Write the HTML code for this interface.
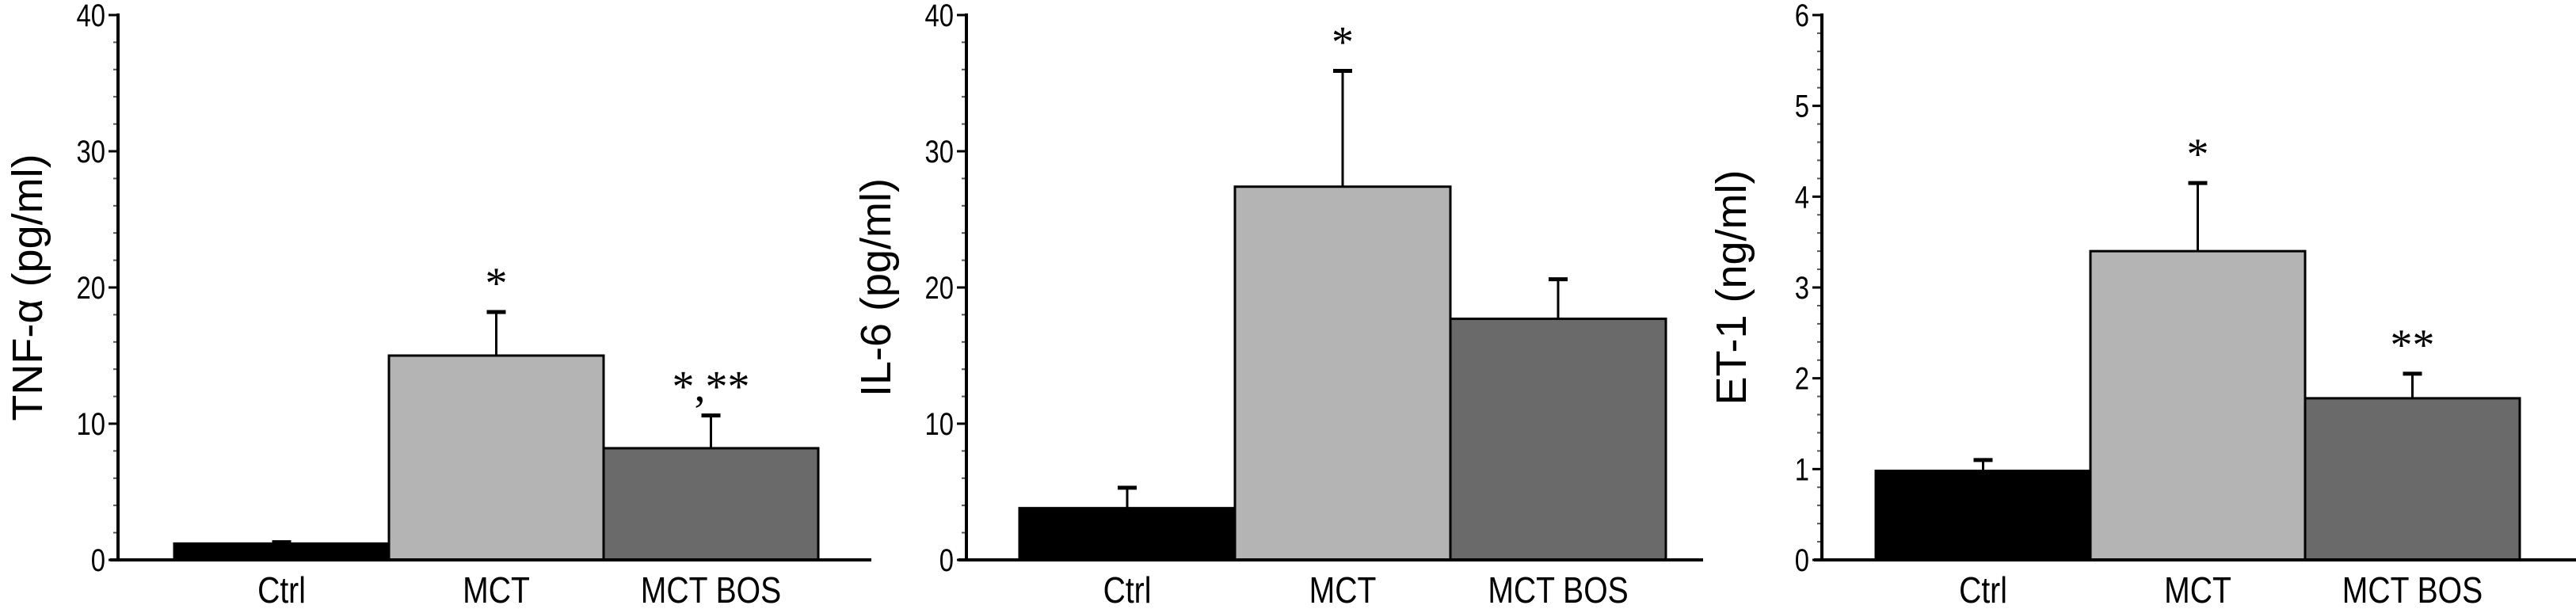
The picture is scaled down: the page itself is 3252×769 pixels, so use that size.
<!DOCTYPE html>
<html><head><meta charset="utf-8"><style>
html,body{margin:0;padding:0;background:#fff;}
svg{display:block;}
text{font-family:"Liberation Sans",sans-serif;fill:#000;}
</style></head><body>
<svg id="chart" width="3252" height="769" viewBox="0 0 3252 769" xmlns="http://www.w3.org/2000/svg"></svg>
<script>
const categories = ["Ctrl", "MCT", "MCT BOS"];
const tnfValues = [1.2, 15.0, 8.2];
const tnfErrors = [1.3, 18.2, 10.6];
const il6Values = [3.8, 27.4, 17.7];
const il6Errors = [5.3, 35.9, 20.6];
const et1Values = [0.98, 3.4, 1.78];
const et1Errors = [1.1, 4.15, 2.05];
const tnfTicks = [0, 10, 20, 30, 40];
const il6Ticks = [0, 10, 20, 30, 40];
const et1Ticks = [0, 1, 2, 3, 4, 5, 6];
const tnfMarks = ["", "*", "*,**"];
const il6Marks = ["", "*", ""];
const et1Marks = ["", "*", "**"];

const NS = "http://www.w3.org/2000/svg";
const svg = document.getElementById("chart");
const colors = ["#000000", "#b4b4b4", "#6a6a6a"];
const Y0 = 707, YTOP = 19;

function mk(tag, attrs, parent) {
  const e = document.createElementNS(NS, tag);
  for (const k in attrs) e.setAttribute(k, attrs[k]);
  (parent || svg).appendChild(e);
  return e;
}

function panel(id, axisX, barX0, barW, xEnd, max, minorStep, ticks, values, errors, marks, title) {
  const g = mk("g", {});
  
  
  const y = v => Y0 - (v / max) * (Y0 - YTOP);
  for (let v = 0; v <= max + 1e-9; v += minorStep) {
    const t = mk("line", {x1: axisX - 6, x2: axisX, y1: y(v), y2: y(v), stroke: "#555", "stroke-width": 2}, g);
    
    
  }
  ticks.forEach(v => {
    const t = mk("line", {x1: axisX - 12, x2: axisX, y1: y(v), y2: y(v), stroke: "#000", "stroke-width": 3}, g);
    
    
    const l = mk("text", {x: axisX - 16, y: y(v) + 14, "text-anchor": "end", "font-size": 40, transform: `translate(${axisX - 16} 0) scale(0.82 1) translate(${-(axisX - 16)} 0)`}, g);
    l.textContent = String(v);
    
    
  });
  values.forEach((v, i) => {
    const x = barX0 + i * barW;
    const cx = x + barW / 2;
    const eb = mk("line", {x1: cx, x2: cx, y1: y(v), y2: y(errors[i]), stroke: "#000", "stroke-width": 3}, g);
    
    
    const cap = mk("line", {x1: cx - 12, x2: cx + 12, y1: y(errors[i]), y2: y(errors[i]), stroke: "#000", "stroke-width": 5}, g);
    
    
    const r = mk("rect", {x: x, y: y(v), width: barW, height: Y0 - y(v), fill: colors[i], stroke: "#000", "stroke-width": 3}, g);
    
    
    if (marks[i]) {
      const m = mk("text", {x: cx, y: y(errors[i]) - 18, "text-anchor": "middle", "font-size": 56, style: 'font-family:"Liberation Serif",serif'}, g);
      m.textContent = marks[i];
      
      
    }
    const xl = mk("text", {x: cx, y: 761, "text-anchor": "middle", "font-size": 46, transform: `translate(${cx} 0) scale(0.85 1) translate(${-cx} 0)`}, g);
    xl.textContent = categories[i];
    
    
  });
  const ya = mk("line", {x1: axisX, x2: axisX, y1: YTOP - 2, y2: Y0 + 2, stroke: "#000", "stroke-width": 4}, g);
  
  
  const xa = mk("line", {x1: axisX - 10, x2: xEnd, y1: Y0, y2: Y0, stroke: "#000", "stroke-width": 4}, g);
  
  
  const tx = axisX - 115, ty = 363;
  const tt = mk("text", {x: tx, y: ty + 19, "text-anchor": "middle", "font-size": 54, transform: `rotate(-90 ${tx} ${ty})`}, g);
  tt.textContent = title;
  
  
}

panel("tnf", 149, 220, 271, 1100, 40, 2, tnfTicks, tnfValues, tnfErrors, tnfMarks, "TNF-\u03b1 (pg/ml)");
panel("il6", 1220, 1287, 272, 2150, 40, 2, il6Ticks, il6Values, il6Errors, il6Marks, "IL-6 (pg/ml)");
panel("et1", 2300, 2368, 271, 3252, 6, 0.2, et1Ticks, et1Values, et1Errors, et1Marks, "ET-1 (ng/ml)");
</script>
</body></html>
